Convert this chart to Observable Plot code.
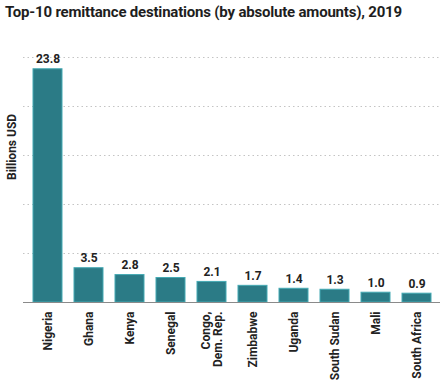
<!DOCTYPE html>
<html>
<head>
<meta charset="utf-8">
<script src="https://cdn.jsdelivr.net/npm/d3@7"></script>
<script src="https://cdn.jsdelivr.net/npm/@observablehq/plot@0.6"></script>
<style>
  html, body { margin: 0; padding: 0; background: #fff; }
  #title { font-family: Roboto, "Noto Sans", sans-serif; font-weight: bold; font-size: 15px; letter-spacing: -0.2px; color: #1e1e1e; height: 30px; line-height: 24px; padding-left: 5px; white-space: nowrap; }
</style>
</head>
<body>
<div id="title">Top-10 remittance destinations (by absolute amounts), 2019</div>
<div id="chart"></div>
<script>
const countries = ["Nigeria", "Ghana", "Kenya", "Senegal", "Congo,\nDem. Rep.", "Zimbabwe", "Uganda", "South Sudan", "Mali", "South Africa"];
const values = [23.8, 3.5, 2.8, 2.5, 2.1, 1.7, 1.4, 1.3, 1.0, 0.9];
const gridTicks = [5, 10, 15, 20, 25];
const yLabel = "Billions USD";

const data = countries.map((c, i) => ({country: c, value: values[i]}));

const chart = Plot.plot({
  width: 448,
  height: 350,
  marginTop: 27,
  marginBottom: 78,
  marginLeft: 23,
  marginRight: 8,
  style: {fontFamily: "Roboto, 'Noto Sans', sans-serif", background: "#fff"},
  x: {domain: countries, paddingInner: 0.3, paddingOuter: 0.2, label: null},
  y: {domain: [0, 25], label: null},
  marks: [
    Plot.ruleY(gridTicks, {stroke: "#c4c4c4", strokeDasharray: "1.5,3", strokeWidth: 1}),
    Plot.barY(data, {x: "country", y: "value", fill: "#2b7b86", stroke: "#45aab3", strokeWidth: 1}),
    Plot.ruleY([0], {stroke: "#8a8a8a", strokeWidth: 1.2}),
    Plot.text(data, {x: "country", y: "value", text: d => d.value.toFixed(1), dy: -10, fontSize: 12, fontWeight: "bold", fill: "#222"}),
    Plot.axisX({tickSize: 0, tickPadding: 9, tickRotate: -90, fontSize: 12, fontWeight: "bold", fill: "#222", label: null}),
    Plot.axisY({ticks: [], label: null}),
    Plot.text([yLabel], {frameAnchor: "left", dx: -11, rotate: -90, fontSize: 12, fontWeight: "bold", fill: "#222"})
  ]
});
document.getElementById("chart").appendChild(chart);
</script>
</body>
</html>
